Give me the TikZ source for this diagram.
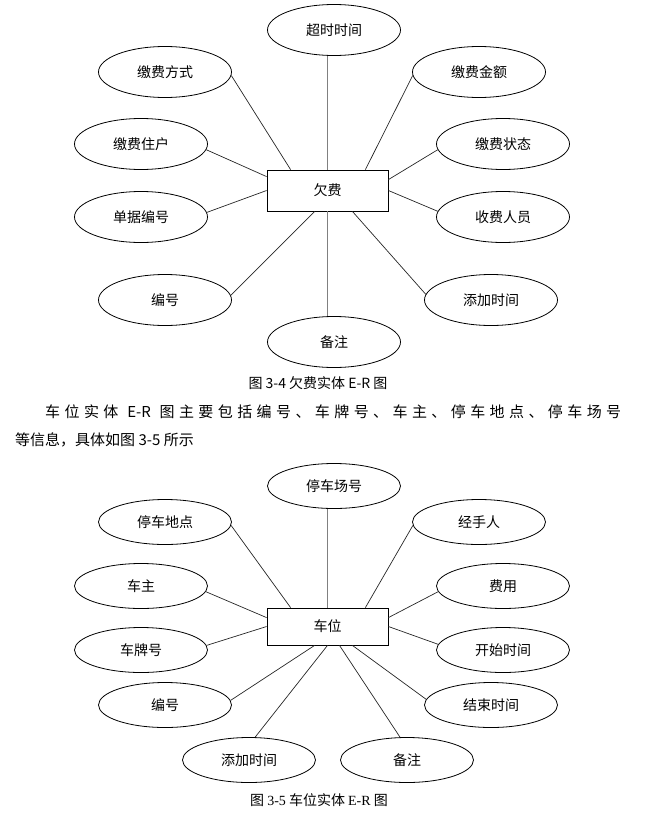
\documentclass[tikz,border=0pt]{standalone}
\usepackage{fontspec}
\newfontfamily\cjk{Noto Sans CJK SC}
\newfontfamily\latser{Liberation Serif}
\usetikzlibrary{shapes.geometric}

\begin{document}
\begin{tikzpicture}[x=1pt, y=-1pt,
  attr/.style={draw=black, ellipse, line width=0.8pt, inner sep=0pt,
               minimum width=133pt, minimum height=51pt, font=\cjk\fontsize{14}{16}\selectfont},
  attrlow/.style={attr, minimum height=45pt},
  entity/.style={draw=black, line width=0.8pt, inner sep=0pt,
                 minimum width=121pt, minimum height=41pt, font=\cjk\fontsize{14}{16}\selectfont},
  link/.style={black!85, line width=0.7pt},
  vlink/.style={black!50, line width=1.4pt},
  caption/.style={font=\cjk\fontsize{14}{16}\selectfont, inner sep=0pt},
  para/.style={font=\cjk\fontsize{15}{18}\selectfont, anchor=west, inner sep=0pt},
]
\useasboundingbox (0,0) rectangle (649,814);

% ---- Figure 3-4: entity and its attributes
\node[entity] (qf) at (327.5,190.5) {欠费};
\node[attr] (cs)   at (334,30)  {超时时间};
\node[attr] (jffs) at (165,72)  {缴费方式};
\node[attr] (jfje) at (479,72)  {缴费金额};
\node[attr] (jfzh) at (141,144) {缴费住户};
\node[attr] (jfzt) at (503,144) {缴费状态};
\node[attr] (djbh) at (141,217) {单据编号};
\node[attr] (sfry) at (503,217) {收费人员};
\node[attr] (bh)   at (165,300) {编号};
\node[attr] (tjsj) at (491,300) {添加时间};
\node[attr] (bz)   at (334,342) {备注};

\draw[vlink] (qf.north) -- (qf.north |- cs.south);
\draw[link] ([xshift=24pt]qf.north west) -- (jffs.-3.5);
\draw[link] ([xshift=-23pt]qf.north east) -- (jfje.183.5);
\draw[link] ([yshift=-7pt]qf.north west) -- (jfzh.-5);
\draw[link] ([yshift=-10pt]qf.north east) -- (jfzt.185);
\draw[link] (qf.west) -- (djbh.4.3);
\draw[link] (qf.east) -- (sfry.175.7);
\draw[link] ([xshift=48pt]qf.south west) -- (bh.4.3);
\draw[link] ([xshift=-36pt]qf.south east) -- (tjsj.175.7);
\draw[vlink] (qf.south) -- (qf.south |- bz.north);

\node[caption] (cap1) at (318,383) {图 3-4 欠费实体 E-R 图};

% ---- body text between the figures
\node[para] (p1) at (45,412)
  {\makebox[576pt][s]{车 位 实 体 \ E-R \ 图 主 要 包 括 编 号 、 车 牌 号 、 车 主 、 停 车 地 点 、 停 车 场 号}};
\node[para] (p2) at (15,440) {等信息，具体如图 3-5 所示};

% ---- Figure 3-5: entity and its attributes
\node[entity, minimum height=37pt] (cw) at (327.5,626.5) {车位};
\node[attrlow] (tccb) at (334,486) {停车场号};
\node[attrlow] (tcdd) at (165,522) {停车地点};
\node[attrlow] (jsr)  at (479,522) {经手人};
\node[attrlow] (cz)   at (141,586) {车主};
\node[attrlow] (fy)   at (503,586) {费用};
\node[attrlow] (cph)  at (141,650) {车牌号};
\node[attrlow] (kssj) at (503,650) {开始时间};
\node[attrlow] (bh2)  at (165,705) {编号};
\node[attrlow] (jssj) at (491,705) {结束时间};
\node[attrlow] (tjsj2) at (249,760) {添加时间};
\node[attrlow] (bz2)  at (407,760) {备注};

\draw[vlink] (cw.north) -- (cw.north |- tccb.south);
\draw[link] ([xshift=24pt]cw.north west) -- (tcdd.-3.5);
\draw[link] ([xshift=-23pt]cw.north east) -- (jsr.183.5);
\draw[link] ([yshift=-10pt]cw.north west) -- (cz.-5);
\draw[link] ([yshift=-10pt]cw.north east) -- (fy.185);
\draw[link] (cw.west) -- (cph.4.3);
\draw[link] (cw.east) -- (kssj.175.7);
\draw[link] ([xshift=48pt]cw.south west) -- (bh2.4.3);
\draw[link] ([xshift=-36pt]cw.south east) -- (jssj.175.7);
\draw[link] (cw.south) -- (tjsj2.75.4);
\draw[link] ([xshift=12pt]cw.south) -- (bz2.107);

\node[caption] (cap2) at (319,800) {图 {\latser 3-5} 车位实体 {\latser E-R} 图};

\end{tikzpicture}
\end{document}
